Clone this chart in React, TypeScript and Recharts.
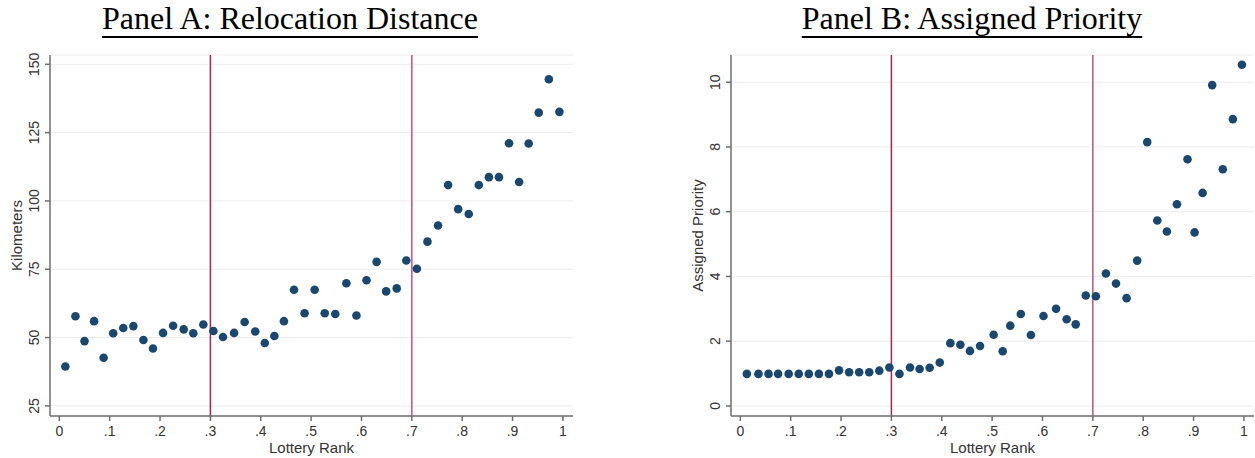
import React from "react";
import {
  ScatterChart,
  Scatter,
  XAxis,
  YAxis,
  CartesianGrid,
  ReferenceLine,
  Label,
} from "recharts";

// Panel A: relocation distance (km) by lottery rank bin
const rankA = [
  0.012, 0.032, 0.05, 0.069, 0.088, 0.107, 0.127, 0.147, 0.167, 0.186,
  0.206, 0.226, 0.247, 0.266, 0.286, 0.306, 0.325, 0.347, 0.368, 0.389,
  0.408, 0.427, 0.446, 0.466, 0.487, 0.507, 0.527, 0.548, 0.57, 0.59,
  0.61, 0.63, 0.649, 0.67, 0.689, 0.71, 0.731, 0.752, 0.772, 0.792,
  0.813, 0.833, 0.853, 0.873, 0.893, 0.913, 0.932, 0.952, 0.972, 0.993,
];
const kmA = [
  39.4, 57.8, 48.7, 56.0, 42.6, 51.6, 53.5, 54.2, 49.1, 46.0,
  51.7, 54.3, 53.0, 51.6, 54.8, 52.4, 50.2, 51.7, 55.7, 52.2,
  48.0, 50.6, 56.0, 67.5, 58.9, 67.5, 58.9, 58.6, 69.9, 58.1,
  71.0, 77.7, 66.9, 68.0, 78.2, 75.2, 85.1, 91.0, 105.8, 97.0,
  95.2, 105.8, 108.7, 108.7, 121.1, 106.9, 121.0, 132.3, 144.5, 132.6,
];

// Panel B: assigned priority by lottery rank bin
const rankB = [
  0.013, 0.036, 0.056, 0.075, 0.096, 0.116, 0.136, 0.156, 0.176, 0.196,
  0.216, 0.236, 0.256, 0.276, 0.296, 0.316, 0.337, 0.356, 0.376, 0.396,
  0.417, 0.437, 0.456, 0.476, 0.503, 0.521, 0.536, 0.557, 0.577, 0.602,
  0.627, 0.648, 0.666, 0.686, 0.706, 0.726, 0.746, 0.767, 0.788, 0.808,
  0.828, 0.847, 0.867, 0.888, 0.902, 0.918, 0.937, 0.958, 0.978, 0.996,
];
const priorityB = [
  0.99, 0.99, 0.99, 0.99, 0.99, 0.99, 0.99, 0.99, 0.99, 1.1,
  1.04, 1.04, 1.04, 1.09, 1.19, 0.99, 1.19, 1.14, 1.18, 1.34,
  1.94, 1.89, 1.7, 1.85, 2.2, 1.69, 2.48, 2.84, 2.19, 2.78,
  3.0, 2.68, 2.52, 3.41, 3.39, 4.09, 3.78, 3.33, 4.49, 8.15,
  5.73, 5.39, 6.23, 7.62, 5.36, 6.58, 9.91, 7.31, 8.86, 10.54,
];

const xTicks = [0, 0.1, 0.2, 0.3, 0.4, 0.5, 0.6, 0.7, 0.8, 0.9, 1];
const yTicksA = [25, 50, 75, 100, 125, 150];
const yTicksB = [0, 2, 4, 6, 8, 10];
const cutoffs = [0.3, 0.7];

const dataA = rankA.map((x, i) => ({ x, y: kmA[i] }));
const dataB = rankB.map((x, i) => ({ x, y: priorityB[i] }));

const DOT = "#1a476f";
const AXIS = "#6e6e6e";
const TEXT = "#333333";
const FONT = "'Liberation Sans', Arial, sans-serif";

const fmtX = (v: number) => (v === 0 ? "0" : v === 1 ? "1" : String(v).replace("0.", "."));

const YTick = (props: any) => {
  const { x, y, payload } = props;
  const tx = x - 4;
  return (
    <text
      x={tx}
      y={y}
      transform={`rotate(-90, ${tx}, ${y})`}
      textAnchor="middle"
      fontSize={14}
      fontFamily={FONT}
      fill={TEXT}
    >
      {payload.value}
    </text>
  );
};

const Dot = (props: any) => <circle cx={props.cx} cy={props.cy} r={4.3} fill={DOT} />;

const Title = ({ text, center }: { text: string; center: number }) => (
  <div
    style={{
      position: "absolute",
      top: 2,
      left: center - 250,
      width: 500,
      textAlign: "center",
      fontFamily: "'Liberation Serif', 'Times New Roman', serif",
      fontSize: 32,
      lineHeight: "32px",
      color: "#000",
      textDecoration: "underline",
      textDecorationThickness: "2px",
      textUnderlineOffset: "7px",
      whiteSpace: "nowrap",
    }}
  >
    {text}
  </div>
);

interface PanelProps {
  data: { x: number; y: number }[];
  yDomain: [number, number];
  yTicks: number[];
  yLabel: string;
  width: number;
  yWidth: number;
  right: number;
  labelOffset: number;
}

const Panel = ({ data, yDomain, yTicks, yLabel, width, yWidth, right, labelOffset }: PanelProps) => (
  <ScatterChart width={width} height={458} margin={{ top: 55, right, bottom: 0, left: 0 }}>
    <CartesianGrid vertical={false} stroke="#ececec" strokeWidth={1} />
    <XAxis
      type="number"
      dataKey="x"
      domain={[-0.0185, 1.02]}
      ticks={xTicks}
      tickFormatter={fmtX}
      allowDataOverflow
      height={42}
      tickSize={5}
      tickMargin={5}
      stroke={AXIS}
      strokeWidth={1.5}
      tick={{ fill: TEXT, fontSize: 14, fontFamily: FONT }}
    >
      <Label
        value="Lottery Rank"
        position="insideBottom"
        offset={5}
        style={{ fill: TEXT, fontSize: 15, fontFamily: FONT }}
      />
    </XAxis>
    <YAxis
      type="number"
      dataKey="y"
      domain={yDomain}
      ticks={yTicks}
      allowDataOverflow
      width={yWidth}
      tickSize={5}
      stroke={AXIS}
      strokeWidth={1.5}
      tick={<YTick />}
    >
      <Label
        value={yLabel}
        angle={-90}
        position="insideLeft"
        offset={labelOffset}
        style={{ fill: TEXT, fontSize: 15, fontFamily: FONT, textAnchor: "middle" }}
      />
    </YAxis>
    {cutoffs.map((c, i) => (
      <ReferenceLine
        key={c}
        x={c}
        stroke={i === 0 ? "#9e2a50" : "#c8507a"}
        strokeWidth={1.5}
      />
    ))}
    <Scatter data={data} shape={<Dot />} isAnimationActive={false} />
  </ScatterChart>
);

export default function App() {
  return (
    <div
      style={{
        position: "absolute",
        left: 0,
        top: 0,
        width: 1255,
        height: 458,
        background: "#fff",
        overflow: "hidden",
      }}
    >
      <Title text="Panel A: Relocation Distance" center={290} />
      <Title text="Panel B: Assigned Priority" center={972} />
      <div style={{ position: "absolute", left: 0, top: 0 }}>
        <Panel
          data={dataA}
          yDomain={[21.3, 153.4]}
          yTicks={yTicksA}
          yLabel="Kilometers"
          width={600}
          yWidth={50}
          right={27}
          labelOffset={17}
        />
      </div>
      <div style={{ position: "absolute", left: 680, top: 0 }}>
        <Panel
          data={dataB}
          yDomain={[-0.31, 10.84]}
          yTicks={yTicksB}
          yLabel="Assigned Priority"
          width={575}
          yWidth={51}
          right={1}
          labelOffset={18}
        />
      </div>
    </div>
  );
}
